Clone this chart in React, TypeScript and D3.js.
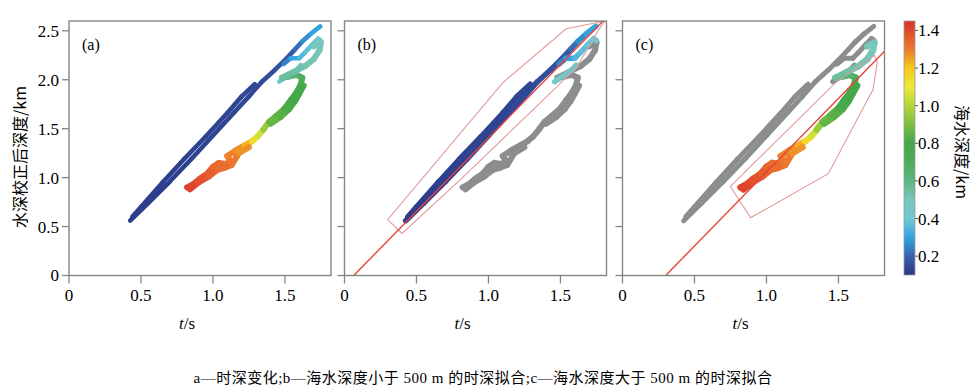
import React from "react";
import * as d3 from "d3";

// axis ticks
const X_TICKS = [0, 0.5, 1.0, 1.5];
const Y_TICKS = [0, 0.5, 1.0, 1.5, 2.0, 2.5];
const CBAR_TICKS = [0.2, 0.4, 0.6, 0.8, 1.0, 1.2, 1.4];

// colour map for water depth (km)
const CMAP_STOPS = [0.1, 0.2, 0.3, 0.4, 0.5, 0.6, 0.7, 0.8, 0.9, 1.0, 1.1, 1.2, 1.3, 1.45];
const CMAP_COLORS = [
  "#2a3585", "#3762ad", "#31a5e0", "#72c8d4", "#78c6bc", "#5db57f", "#4cac58",
  "#44a84a", "#7cbf3f", "#b6d53c", "#ece938", "#f7c81c", "#ec7b2d", "#d9302c",
];

// tracks: [t (s), corrected depth (km), water depth (km)]
// water depth < 500 m
const SHALLOW_LOWER = [
  [0.425, 0.56, 0.12], [0.55, 0.74, 0.12], [0.7, 0.96, 0.12], [0.85, 1.19, 0.13],
  [1.0, 1.43, 0.13], [1.15, 1.67, 0.14], [1.25, 1.83, 0.14], [1.34, 1.98, 0.15],
  [1.43, 2.1, 0.16], [1.5, 2.2, 0.17], [1.57, 2.31, 0.19], [1.62, 2.39, 0.24],
  [1.68, 2.47, 0.29], [1.745, 2.545, 0.31],
];
const SHALLOW_UPPER = [
  [0.44, 0.6, 0.12], [0.5, 0.7, 0.12], [0.65, 0.95, 0.12], [0.8, 1.19, 0.13],
  [0.95, 1.42, 0.13], [1.1, 1.66, 0.13], [1.2, 1.83, 0.14], [1.29, 1.955, 0.14],
];
const SHALLOW_LOOP = [
  [1.49, 2.16, 0.22], [1.54, 2.22, 0.28], [1.6, 2.22, 0.33], [1.64, 2.28, 0.36],
  [1.69, 2.36, 0.38], [1.73, 2.42, 0.4], [1.75, 2.4, 0.42],
];
const SHALLOW_TEAL = [
  [1.46, 1.98, 0.44], [1.52, 2.04, 0.46], [1.58, 2.1, 0.47], [1.61, 2.15, 0.47],
];

// water depth > 500 m
const DEEP_MAIN = [
  [0.82, 0.9, 1.42], [0.86, 0.93, 1.41], [0.91, 0.99, 1.39], [0.96, 1.04, 1.37],
  [1.0, 1.11, 1.35], [1.04, 1.15, 1.33], [1.09, 1.14, 1.32], [1.12, 1.17, 1.31],
  [1.1, 1.22, 1.3], [1.16, 1.28, 1.28], [1.22, 1.33, 1.26], [1.27, 1.37, 1.2],
  [1.31, 1.42, 1.1], [1.35, 1.49, 1.0], [1.39, 1.57, 0.9], [1.44, 1.63, 0.85],
  [1.5, 1.71, 0.82], [1.54, 1.79, 0.8], [1.58, 1.87, 0.8], [1.61, 1.95, 0.78],
  [1.62, 2.02, 0.72], [1.58, 2.05, 0.66], [1.52, 2.03, 0.6], [1.48, 2.02, 0.56],
];
const DEEP_SIDE = [
  [0.84, 0.88, 1.42], [0.9, 0.95, 1.4], [0.97, 1.01, 1.37], [1.03, 1.08, 1.34],
  [1.08, 1.1, 1.33], [1.13, 1.13, 1.32], [1.18, 1.25, 1.29], [1.25, 1.31, 1.25],
];
const DEEP_GREEN = [
  [1.4, 1.55, 0.88], [1.47, 1.62, 0.84], [1.53, 1.7, 0.82], [1.57, 1.78, 0.8],
  [1.6, 1.86, 0.79], [1.63, 1.94, 0.78],
];
const DEEP_TOP = [
  [1.48, 2.02, 0.56], [1.56, 2.08, 0.54], [1.64, 2.14, 0.52], [1.7, 2.21, 0.51],
  [1.74, 2.3, 0.5], [1.75, 2.38, 0.5], [1.7, 2.34, 0.5],
];

const SHALLOW = [SHALLOW_LOWER, SHALLOW_UPPER, SHALLOW_LOOP, SHALLOW_TEAL];
const DEEP = [DEEP_MAIN, DEEP_SIDE, DEEP_GREEN, DEEP_TOP];

// fitted lines and outlines: [t, depth]
const FIT_B = [[0.064, 0], [1.81, 2.62]];
const FIT_C = [[0.3, 0], [1.82, 2.29]];
const HULL_B = [
  [0.3, 0.57], [0.4, 0.43], [0.82, 1.0], [1.3, 1.68], [1.61, 2.12], [1.77, 2.52],
  [1.81, 2.6], [1.54, 2.52], [1.1, 1.97],
];
const HULL_C = [
  [0.75, 0.91], [0.89, 0.59], [1.43, 1.04], [1.74, 1.9], [1.77, 2.18], [1.75, 2.25],
  [1.48, 1.97],
];

const GRAY = "#8b8d8f";
const AXIS = "#858585";
const SERIF = "'Liberation Serif', 'Times New Roman', serif";
const CJK = "'Noto Sans CJK SC', sans-serif";

const cmap = d3
  .scaleLinear<string>()
  .domain(CMAP_STOPS)
  .range(CMAP_COLORS)
  .interpolate(d3.interpolateRgb)
  .clamp(true);

const TOP = 21;
const BOTTOM = 275.5;
const PW = 262;

const Track = ({ pts, x, y, color, w }) =>
  pts.slice(1).map((p, i) => {
    const q = pts[i];
    return (
      <line
        key={i}
        x1={x(q[0])}
        y1={y(q[1])}
        x2={x(p[0])}
        y2={y(p[1])}
        stroke={color || cmap((p[2] + q[2]) / 2)}
        strokeWidth={w}
        strokeLinecap="round"
      />
    );
  });

const Panel = ({ id, left, label, shallow, deep, fit, hull, yLabels }) => {
  const x = d3.scaleLinear().domain([0, 1.82]).range([left, left + PW]);
  const y = d3.scaleLinear().domain([0, 2.6]).range([BOTTOM, TOP]);
  const line = d3.line().x((d) => x(d[0])).y((d) => y(d[1]));
  const fmt = (v) => (v === 0 ? "0" : d3.format(".1f")(v));
  // gray layers are drawn first
  const layers = [shallow, deep].sort((a, b) => (a.gray ? 0 : 1) - (b.gray ? 0 : 1));
  return (
    <g>
      <defs>
        <clipPath id={"clip" + id}>
          <rect x={left} y={TOP} width={PW} height={BOTTOM - TOP} />
        </clipPath>
      </defs>
      <g clipPath={`url(#clip${id})`}>
        {layers.map((L, k) =>
          L.tracks.map((t, i) => (
            <Track
              key={k + "-" + i}
              pts={t}
              x={x}
              y={y}
              color={L.gray ? GRAY : null}
              w={L.w}
            />
          ))
        )}
        {hull && (
          <path d={line(hull) + "Z"} fill="none" stroke="#e19a98" strokeWidth={1.1} />
        )}
        {fit && <path d={line(fit)} fill="none" stroke="#e5443c" strokeWidth={1.4} />}
      </g>
      <rect
        x={left}
        y={TOP}
        width={PW}
        height={BOTTOM - TOP}
        fill="none"
        stroke={AXIS}
        strokeWidth={1.4}
      />
      {X_TICKS.map((v) => (
        <g key={"x" + v}>
          <line x1={x(v)} x2={x(v)} y1={BOTTOM} y2={BOTTOM + 8} stroke={AXIS} strokeWidth={1.3} />
          <text x={x(v)} y={BOTTOM + 25} textAnchor="middle" fontFamily={SERIF} fontSize={17}>
            {fmt(v)}
          </text>
        </g>
      ))}
      {Y_TICKS.map((v) => (
        <g key={"y" + v}>
          <line x1={left - 7} x2={left} y1={y(v)} y2={y(v)} stroke={AXIS} strokeWidth={1.3} />
          {yLabels && (
            <text
              x={left - 10}
              y={y(v)}
              dy="0.35em"
              textAnchor="end"
              fontFamily={SERIF}
              fontSize={17}
            >
              {fmt(v)}
            </text>
          )}
        </g>
      ))}
      <text x={left + 13} y={TOP + 29} fontFamily={SERIF} fontSize={16}>
        {label}
      </text>
      <text x={left + PW / 2 - 13} y={329} textAnchor="middle" fontFamily={SERIF} fontSize={17}>
        <tspan fontStyle="italic">t</tspan>/s
      </text>
    </g>
  );
};

const ColorBar = () => {
  const cy = d3.scaleLinear().domain([0.1, 1.45]).range([275, 21]);
  const x0 = 904;
  const bw = 11;
  return (
    <g>
      <defs>
        <linearGradient id="cbar" x1="0" y1="1" x2="0" y2="0">
          {CMAP_STOPS.map((s, i) => (
            <stop
              key={s}
              offset={(s - 0.1) / (1.45 - 0.1)}
              stopColor={CMAP_COLORS[i]}
            />
          ))}
        </linearGradient>
      </defs>
      <rect x={x0} y={21} width={bw} height={254} fill="url(#cbar)" stroke="#9a9a9a" strokeWidth={0.8} />
      {CBAR_TICKS.map((v) => (
        <g key={v}>
          <line x1={x0 + bw} x2={x0 + bw + 3} y1={cy(v)} y2={cy(v)} stroke="#555" />
          <text x={x0 + bw + 3} y={cy(v)} dy="0.35em" fontFamily={SERIF} fontSize={17}>
            {v.toFixed(1)}
          </text>
        </g>
      ))}
      <text
        transform="translate(956,152) rotate(90)"
        textAnchor="middle"
        fontFamily={CJK}
        fontSize={16}
      >
        海水深度/km
      </text>
    </g>
  );
};

export default function App() {
  return (
    <div style={{ position: "absolute", left: 0, top: 0 }}>
      <svg width={975} height={391} style={{ display: "block", background: "#fff" }}>
        <text
          transform="translate(26,157) rotate(-90)"
          textAnchor="middle"
          fontFamily={CJK}
          fontSize={16}
        >
          水深校正后深度/km
        </text>
        <Panel
          id="a"
          left={69}
          label="(a)"
          shallow={{ tracks: SHALLOW, gray: false, w: 4.6 }}
          deep={{ tracks: DEEP, gray: false, w: 6 }}
          yLabels
        />
        <Panel
          id="b"
          left={344.5}
          label="(b)"
          shallow={{ tracks: SHALLOW, gray: false, w: 5.5 }}
          deep={{ tracks: DEEP, gray: true, w: 6 }}
          fit={FIT_B}
          hull={HULL_B}
        />
        <Panel
          id="c"
          left={622.5}
          label="(c)"
          shallow={{ tracks: SHALLOW, gray: true, w: 5 }}
          deep={{ tracks: DEEP, gray: false, w: 6.5 }}
          fit={FIT_C}
          hull={HULL_C}
        />
        <ColorBar />
        <text
          x={483}
          y={383}
          textAnchor="middle"
          fontFamily={"'Liberation Serif', 'Noto Sans CJK SC', serif"}
          fontSize={15}
          letterSpacing={0.5}
        >
          a—时深变化;b—海水深度小于 500 m 的时深拟合;c—海水深度大于 500 m 的时深拟合
        </text>
      </svg>
    </div>
  );
}
